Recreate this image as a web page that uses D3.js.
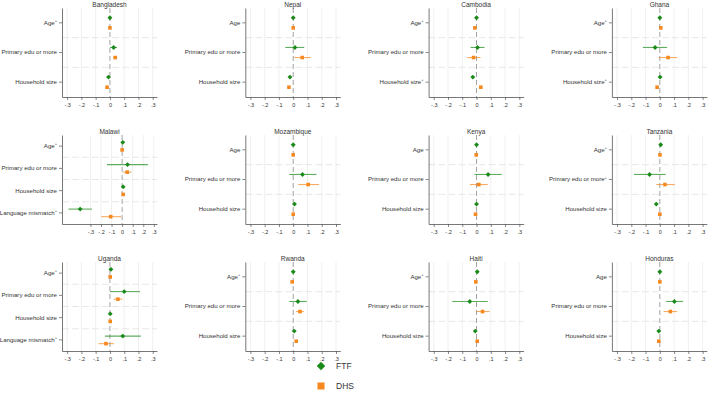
<!DOCTYPE html>
<html>
<head>
<meta charset="utf-8">
<script src="https://cdn.jsdelivr.net/npm/d3@7"></script>
<style>
  body { margin: 0; background: #fff; }
  svg { font-family: "Liberation Sans", Arial, sans-serif; }
</style>
</head>
<body>
<div id="chart"></div>
<script>
// countries in panel order (row by row)
const countries = ["Bangladesh", "Nepal", "Cambodia", "Ghana",
                   "Malawi", "Mozambique", "Kenya", "Tanzania",
                   "Uganda", "Rwanda", "Haiti", "Honduras"];

const baseVars = ["Age", "Primary edu or more", "Household size"];
const langVars = ["Age", "Primary edu or more", "Household size", "Language mismatch"];
// which variable labels carry the superscript "+"
const supFlags = [
  [1, 0, 0], [0, 0, 0], [1, 0, 1], [1, 0, 1],
  [1, 0, 0, 1], [0, 0, 0], [0, 0, 0], [1, 1, 0],
  [1, 0, 0, 1], [1, 0, 0], [1, 0, 0], [0, 0, 0]
];

// FTF estimates and 95% CI
const ftfEst = [
  [0, 0.026, -0.010], [0, 0.012, -0.023], [0, 0.007, -0.026], [0, -0.033, 0.002],
  [0.006, 0.051, 0.010, -0.397], [0, 0.065, 0.009], [0, 0.081, 0], [0.006, -0.072, -0.025],
  [0.007, 0.100, 0.002, 0.090], [0, 0.033, 0.007], [0.005, -0.047, -0.009], [0, 0.102, -0.007]
];
const ftfLo = [
  [-0.004, 0.000, -0.016], [-0.004, -0.056, -0.029], [-0.004, -0.042, -0.032], [-0.004, -0.119, -0.004],
  [0.001, -0.143, 0.004, -0.508], [-0.004, -0.026, 0.003], [-0.004, -0.014, -0.005], [0.001, -0.181, -0.033],
  [0.002, 0.000, -0.004, -0.035], [-0.004, -0.028, 0.001], [0.000, -0.170, -0.015], [-0.004, 0.044, -0.013]
];
const ftfHi = [
  [0.004, 0.050, -0.004], [0.004, 0.077, -0.017], [0.004, 0.056, -0.020], [0.004, 0.051, 0.008],
  [0.011, 0.244, 0.016, -0.286], [0.004, 0.163, 0.015], [0.004, 0.177, 0.005], [0.011, 0.041, -0.017],
  [0.012, 0.210, 0.008, 0.217], [0.004, 0.095, 0.013], [0.010, 0.079, -0.003], [0.004, 0.163, -0.001]
];

// DHS estimates and 95% CI
const dhsEst = [
  [0, 0.037, -0.020], [0, 0.063, -0.030], [-0.012, -0.021, 0.030], [0.007, 0.058, -0.019],
  [0, 0.048, 0.010, -0.108], [0, 0.105, 0], [-0.002, 0.016, -0.007], [0.001, 0.036, 0],
  [0.002, 0.056, 0.002, -0.028], [-0.007, 0.047, 0.021], [-0.005, 0.042, 0.005], [0, 0.074, -0.007]
];
const dhsLo = [
  [-0.003, 0.023, -0.025], [-0.003, 0.007, -0.035], [-0.015, -0.065, 0.025], [0.004, -0.007, -0.024],
  [-0.003, 0.010, 0.006, -0.197], [-0.003, 0.035, -0.003], [-0.005, -0.047, -0.011], [-0.002, -0.025, -0.003],
  [-0.001, 0.026, -0.002, -0.080], [-0.010, 0.019, 0.016], [-0.008, -0.002, 0.001], [-0.003, 0.026, -0.011]
];
const dhsHi = [
  [0.003, 0.051, -0.015], [0.003, 0.123, -0.025], [-0.009, 0.028, 0.035], [0.010, 0.121, -0.014],
  [0.003, 0.089, 0.014, -0.010], [0.003, 0.181, 0.003], [0.001, 0.079, -0.003], [0.004, 0.105, 0.003],
  [0.005, 0.087, 0.006, 0.028], [-0.004, 0.074, 0.026], [-0.002, 0.091, 0.009], [0.003, 0.121, -0.003]
];

const xTicks = [-0.3, -0.2, -0.1, 0, 0.1, 0.2, 0.3];
const legendLabels = ["FTF", "DHS"];

const green = "#1b8a1b", orange = "#f5891f";
const width = 709, height = 411;
const colX0 = 62, colStep = 183.3, plotW = 95;
const rowY0 = 8, rowStep = 127, plotH = 89;

const svg = d3.select("#chart").append("svg")
  .attr("width", width)
  .attr("height", height);

// Stata style tick labels: -.3, 0, .1
function stataFmt(d){
  if (Math.abs(d) < 1e-9) return "0";
  let s = d3.format(".1f")(Math.abs(d)).replace(/^0/, "");
  return (d < 0 ? "-" : "") + s;
}

countries.forEach((name, i) => {
  let col = i % 4, row = Math.floor(i / 4);
  let left = colX0 + col * colStep;
  let top = rowY0 + row * rowStep;
  let vars = ftfEst[i].length === 4 ? langVars : baseVars;
  let g = svg.append("g");

  let minLo = Math.min(-0.3, d3.min(ftfLo[i]), d3.min(dhsLo[i]));
  let x = d3.scaleLinear()
    .domain([minLo * 1.12, 0.33])
    .range([left, left + plotW]);
  let y = d3.scaleBand()
    .domain(d3.range(vars.length))
    .range([top, top + plotH]);
  let bw = y.bandwidth();
  let off = bw * 0.17;

  // grid lines
  g.selectAll(".vgrid").data(xTicks.filter(d => d !== 0)).join("line")
    .attr("x1", d => x(d)).attr("x2", d => x(d))
    .attr("y1", top).attr("y2", top + plotH)
    .attr("stroke", "#ececec").attr("stroke-width", 0.8);
  g.selectAll(".hgrid").data(d3.range(1, vars.length)).join("line")
    .attr("x1", left).attr("x2", left + plotW)
    .attr("y1", d => y(d)).attr("y2", d => y(d))
    .attr("stroke", "#e2e2e2").attr("stroke-width", 0.8)
    .attr("stroke-dasharray", "7,3");
  // zero reference line
  g.append("line")
    .attr("x1", x(0)).attr("x2", x(0))
    .attr("y1", top).attr("y2", top + plotH)
    .attr("stroke", "#8a8a8a").attr("stroke-width", 0.8)
    .attr("stroke-dasharray", "5,3");

  // axes
  let xAxis = g.append("g")
    .attr("transform", "translate(0," + (top + plotH) + ")")
    .call(d3.axisBottom(x).tickValues(xTicks).tickFormat(stataFmt).tickSize(3).tickSizeOuter(0));
  xAxis.select(".domain").attr("stroke", "#555").attr("stroke-width", 0.8);
  xAxis.selectAll(".tick line").attr("stroke", "#555").attr("stroke-width", 0.7);
  xAxis.selectAll("text").attr("font-size", 5.5).attr("fill", "#333").attr("dy", "0.75em");

  let yAxis = g.append("g")
    .attr("transform", "translate(" + left + ",0)")
    .call(d3.axisLeft(y).tickFormat(d => vars[d]).tickSize(3).tickSizeOuter(0));
  yAxis.select(".domain").attr("stroke", "#555").attr("stroke-width", 0.8);
  yAxis.selectAll(".tick line").attr("stroke", "#555").attr("stroke-width", 0.7);
  yAxis.selectAll("text").attr("font-size", 6.1).attr("fill", "#333").attr("x", -5)
    .each(function(d){
      if (supFlags[i][d]) {
        d3.select(this).append("tspan")
          .attr("font-size", 4).attr("dy", "-0.7em").text("+");
      }
    });

  // title
  g.append("text")
    .attr("x", left + plotW / 2)
    .attr("y", top - 1.5)
    .attr("text-anchor", "middle")
    .attr("font-size", 6.5)
    .attr("fill", "#333")
    .text(name);

  // series
  let series = [
    {est: ftfEst[i], lo: ftfLo[i], hi: ftfHi[i], color: green, dy: -off, shape: "diamond"},
    {est: dhsEst[i], lo: dhsLo[i], hi: dhsHi[i], color: orange, dy: off, shape: "square"}
  ];
  series.forEach(s => {
    let cy = k => y(k) + bw / 2 + s.dy;
    g.selectAll(null).data(d3.range(vars.length)).join("line")
      .attr("x1", k => x(s.lo[k])).attr("x2", k => x(s.hi[k]))
      .attr("y1", cy).attr("y2", cy)
      .attr("stroke", s.color).attr("stroke-opacity", 0.7).attr("stroke-width", 1.1);
    g.selectAll(null).data(d3.range(vars.length)).join("path")
      .attr("d", d3.symbol(d3.symbolSquare, s.shape === "diamond" ? 12 : 13))
      .attr("transform", k => "translate(" + x(s.est[k]) + "," + cy(k) + ")" +
        (s.shape === "diamond" ? " rotate(45)" : ""))
      .attr("fill", s.color);
  });
});

// legend
let legend = svg.append("g");
legendLabels.forEach((lab, k) => {
  let ly = 366 + k * 20;
  legend.append("path")
    .attr("d", d3.symbol(d3.symbolSquare, k === 0 ? 36 : 50))
    .attr("transform", "translate(321," + ly + ")" + (k === 0 ? " rotate(45)" : ""))
    .attr("fill", k === 0 ? green : orange);
  legend.append("text")
    .attr("x", 336).attr("y", ly)
    .attr("dy", "0.35em")
    .attr("font-size", 8.5)
    .attr("fill", "#333")
    .text(lab);
});
</script>
</body>
</html>
